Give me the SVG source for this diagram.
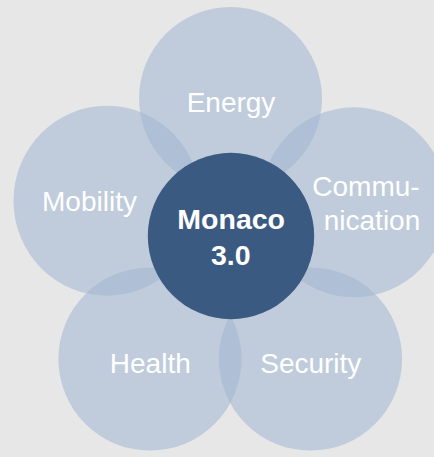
<svg xmlns="http://www.w3.org/2000/svg" width="434" height="457" viewBox="0 0 434 457">
  <style>
    .petal { fill: #a0b6d2; fill-opacity: 0.55; }
    .core { fill: #3b5a82; }
    .lbl { font-family: "Liberation Sans", Arial, sans-serif; font-size: 28px; fill: #ffffff; text-anchor: middle; }
    .clbl { font-family: "Liberation Sans", Arial, sans-serif; font-size: 28.5px; font-weight: bold; fill: #ffffff; text-anchor: middle; }
  </style>
  <rect x="0" y="0" width="434" height="457" fill="#e7e7e7"/>
  <g id="connectors"/>
  <g id="energy">
    <circle class="petal" cx="230.5" cy="98.5" r="91.5"/>
    <text class="lbl" x="231" y="112">Energy</text>
  </g>
  <g id="mobility">
    <ellipse class="petal" cx="107" cy="200.7" rx="93.5" ry="95"/>
    <text class="lbl" x="89.5" y="211">Mobility</text>
  </g>
  <g id="communication">
    <ellipse class="petal" cx="354" cy="202.3" rx="93.5" ry="95"/>
    <text class="lbl" x="366" y="195.5">Commu-</text>
    <text class="lbl" x="372" y="230">nication</text>
  </g>
  <g id="health">
    <circle class="petal" cx="150" cy="359" r="91.6"/>
    <text class="lbl" x="150.3" y="372.7">Health</text>
  </g>
  <g id="security">
    <circle class="petal" cx="310.5" cy="359" r="91.6"/>
    <text class="lbl" x="310.8" y="372.7">Security</text>
  </g>
  <g id="monaco">
    <circle class="core" cx="231" cy="236" r="83.2"/>
    <text class="clbl" x="231.2" y="229.3">Monaco</text>
    <text class="clbl" x="230.8" y="265">3.0</text>
  </g>
</svg>
